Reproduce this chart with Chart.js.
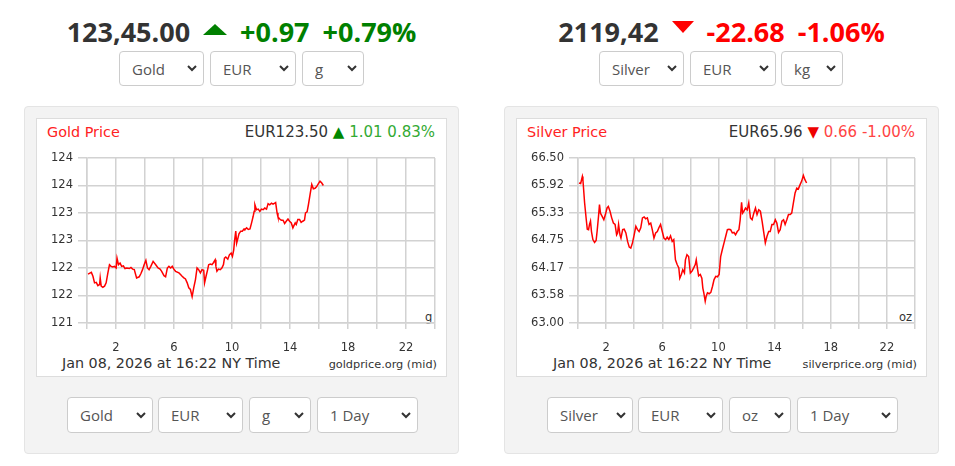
<!DOCTYPE html>
<html>
<head>
<meta charset="utf-8">
<script src="https://cdn.jsdelivr.net/npm/chart.js@4.4.1/dist/chart.umd.min.js"></script>
<style>
body{margin:0;background:#fff;width:955px;height:466px;position:relative;overflow:hidden;font-family:"Open Sans",sans-serif;}
.head{position:absolute;top:14px;width:435px;height:36px;line-height:36px;display:flex;justify-content:center;align-items:center;gap:13px;font-weight:700;font-size:27px;white-space:nowrap;color:#333;}
.up{width:0;height:0;border-left:12px solid transparent;border-right:12px solid transparent;border-bottom:11px solid #008000;margin-top:-6px;}
.down{width:0;height:0;border-left:11px solid transparent;border-right:11px solid transparent;border-top:12px solid #f00;margin-top:-10px;}
select{position:absolute;-webkit-appearance:none;appearance:none;box-sizing:border-box;height:36px;border:1px solid #ccc;border-radius:4px;background:#fff url("data:image/svg+xml,%3Csvg xmlns='http://www.w3.org/2000/svg' width='10' height='7' viewBox='0 0 10 7'%3E%3Cpath d='M1 1l4 4 4-4' fill='none' stroke='%23333' stroke-width='2'/%3E%3C/svg%3E") no-repeat right 6px center;font-family:"Open Sans",sans-serif;font-size:15px;color:#555;padding:0 0 0 12px;margin:0;}
.panel{position:absolute;top:106px;width:435px;height:348px;box-sizing:border-box;background:#f3f3f3;border:1px solid #e4e4e4;border-radius:4px;}
.box{position:absolute;top:118px;width:411px;height:259px;box-sizing:border-box;background:#fff;border:1px solid #ddd;}
.t{position:absolute;white-space:nowrap;font-family:"DejaVu Sans",Verdana,sans-serif;line-height:16px;}
canvas{position:absolute;top:140px;}
</style>
</head>
<body>

<div class="head" style="left:24px"><span>123,45.00</span><span class="up"></span><span style="color:#008000">+0.97</span><span style="color:#008000">+0.79%</span></div>
<select style="left:119px;top:51px;height:35px;width:85px"><option>Gold</option></select>
<select style="left:210px;top:51px;height:35px;width:86px"><option>EUR</option></select>
<select style="left:302px;top:51px;height:35px;width:62px"><option>g</option></select>

<div class="head" style="left:504px"><span>2119,42</span><span class="down"></span><span style="color:#f00">-22.68</span><span style="color:#f00">-1.06%</span></div>
<select style="left:599px;top:51px;height:35px;width:85px"><option>Silver</option></select>
<select style="left:690px;top:51px;height:35px;width:86px"><option>EUR</option></select>
<select style="left:781px;top:51px;height:35px;width:62px"><option>kg</option></select>

<div class="panel" style="left:24px"></div>
<div class="panel" style="left:504px"></div>
<div class="box" style="left:36px"></div>
<div class="box" style="left:516px"></div>

<div class="t" style="left:47px;top:124px;font-size:14.4px;color:#f22">Gold Price</div>
<div class="t" style="right:520px;top:124px;font-size:15px;color:#333">EUR123.50 <span style="color:#080">▲</span> <span style="color:#3a3">1.01 0.83%</span></div>
<div class="t" style="left:425px;top:309px;font-size:11.5px;color:#333">g</div>
<div class="t" style="left:62px;top:355px;font-size:14.3px;color:#333">Jan 08, 2026 at 16:22 NY Time</div>
<div class="t" style="right:518px;top:357px;font-size:11.3px;color:#333">goldprice.org (mid)</div>

<div class="t" style="left:527px;top:124px;font-size:14.4px;color:#f22">Silver Price</div>
<div class="t" style="right:40px;top:124px;font-size:15px;color:#333">EUR65.96 <span style="color:#e00">▼</span> <span style="color:#f44">0.66 -1.00%</span></div>
<div class="t" style="left:899px;top:309px;font-size:11.5px;color:#333">oz</div>
<div class="t" style="left:553px;top:355px;font-size:14.3px;color:#333">Jan 08, 2026 at 16:22 NY Time</div>
<div class="t" style="right:38px;top:357px;font-size:11.3px;color:#333">silverprice.org (mid)</div>

<canvas id="goldChart" width="411" height="220" style="left:36px"></canvas>
<canvas id="silverChart" width="411" height="220" style="left:516px"></canvas>

<select style="left:67px;top:397px;width:86px"><option>Gold</option></select>
<select style="left:158px;top:397px;width:85px"><option>EUR</option></select>
<select style="left:249px;top:397px;width:62px"><option>g</option></select>
<select style="left:317px;top:397px;width:101px"><option>1 Day</option></select>

<select style="left:547px;top:397px;width:86px"><option>Silver</option></select>
<select style="left:638px;top:397px;width:85px"><option>EUR</option></select>
<select style="left:729px;top:397px;width:62px"><option>oz</option></select>
<select style="left:797px;top:397px;width:101px"><option>1 Day</option></select>

<script>
// hours after midnight (NY time) and EUR price per unit
var goldHours = [0.07,0.30,0.41,0.52,0.64,0.75,0.87,0.91,0.98,1.09,1.21,1.32,1.44,1.55,1.66,1.78,1.89,2.01,2.07,2.17,2.28,2.39,2.51,2.62,2.74,2.92,3.03,3.15,3.26,3.42,3.60,3.72,3.83,3.94,4.06,4.17,4.28,4.40,4.56,4.74,4.90,5.04,5.15,5.31,5.42,5.54,5.65,5.77,5.88,5.99,6.11,6.34,6.45,6.56,6.68,6.79,6.91,7.02,7.13,7.25,7.36,7.48,7.59,7.70,7.82,7.93,8.05,8.11,8.21,8.32,8.39,8.50,8.62,8.73,8.84,8.89,8.96,9.07,9.19,9.30,9.41,9.48,9.57,9.71,9.82,9.94,10.03,10.12,10.17,10.26,10.32,10.39,10.48,10.60,10.71,10.83,10.89,11.01,11.12,11.24,11.35,11.46,11.53,11.58,11.69,11.81,11.92,12.03,12.15,12.26,12.38,12.49,12.60,12.72,12.83,12.95,13.01,13.11,13.17,13.29,13.40,13.52,13.63,13.74,13.86,13.97,14.09,14.20,14.27,14.36,14.43,14.54,14.66,14.77,14.88,15.00,15.07,15.18,15.27,15.38,15.50,15.61,15.73,15.84,15.95,16.07,16.18,16.30];
var goldPrices = [121.89,121.92,121.85,121.73,121.74,121.68,121.70,121.82,121.67,121.65,121.67,121.73,121.91,122.06,122.03,122.02,122.03,122.00,122.18,122.06,122.09,122.03,122.04,121.99,122.00,121.99,122.01,121.98,121.97,121.82,121.84,121.90,121.97,122.06,122.14,122.00,121.97,122.03,122.12,122.06,122.00,121.98,121.94,121.86,121.84,122.00,122.03,122.00,122.03,121.98,121.94,121.91,121.88,121.85,121.82,121.80,121.73,121.64,121.61,121.48,121.64,121.79,122.00,121.97,121.91,121.97,121.96,121.73,121.85,121.97,122.06,122.07,122.06,122.10,122.15,122.03,121.94,121.98,121.97,122.00,122.06,122.18,122.20,122.16,122.24,122.27,122.21,122.33,122.48,122.67,122.45,122.52,122.62,122.67,122.67,122.71,122.70,122.73,122.70,122.71,122.82,122.94,123.03,123.15,123.06,123.07,123.03,123.07,123.06,123.09,123.07,123.17,123.15,123.18,123.16,123.18,123.19,123.00,122.93,122.89,122.87,122.87,122.81,122.85,122.89,122.85,122.82,122.73,122.77,122.82,122.79,122.88,122.88,122.83,122.85,122.87,123.00,123.02,123.15,123.33,123.52,123.44,123.45,123.48,123.53,123.58,123.55,123.50];

var silverHours = [0.07,0.19,0.31,0.35,0.47,0.59,0.66,0.75,0.82,0.89,0.96,1.06,1.18,1.29,1.36,1.46,1.53,1.60,1.72,1.84,1.95,2.07,2.16,2.28,2.40,2.52,2.64,2.75,2.82,2.89,2.99,3.06,3.18,3.29,3.41,3.53,3.65,3.76,3.88,4.00,4.12,4.24,4.35,4.47,4.59,4.71,4.82,4.94,5.06,5.18,5.29,5.41,5.53,5.65,5.76,5.88,6.00,6.12,6.24,6.35,6.47,6.59,6.71,6.82,6.94,7.06,7.18,7.25,7.36,7.46,7.58,7.65,7.76,7.88,8.00,8.12,8.24,8.35,8.42,8.52,8.59,8.71,8.82,8.89,8.96,9.06,9.13,9.22,9.34,9.46,9.58,9.69,9.81,9.93,10.05,10.16,10.28,10.40,10.52,10.64,10.75,10.87,10.99,11.11,11.22,11.34,11.46,11.55,11.65,11.72,11.81,11.93,12.05,12.16,12.28,12.40,12.52,12.64,12.75,12.87,12.99,13.11,13.22,13.34,13.46,13.58,13.69,13.81,13.93,14.05,14.16,14.28,14.40,14.52,14.64,14.75,14.87,14.99,15.11,15.22,15.34,15.46,15.58,15.69,15.81,15.93,16.05,16.16,16.28];
var silverPrices = [65.97,65.96,66.11,66.04,65.55,65.19,64.99,64.98,65.09,65.16,64.94,64.77,64.71,64.75,64.94,65.26,65.51,65.33,65.26,65.19,65.30,65.44,65.47,65.37,65.23,65.12,65.09,64.87,64.91,65.09,64.87,64.80,64.98,64.99,64.91,64.73,64.61,64.59,64.70,64.87,65.05,64.98,64.94,65.02,65.23,65.25,65.21,65.23,65.09,65.12,64.98,64.80,64.91,64.94,65.02,65.09,64.94,64.80,64.77,64.82,64.77,64.85,64.73,64.77,64.34,64.24,64.17,63.95,64.03,64.13,64.06,64.34,64.45,64.41,64.06,64.10,64.17,64.24,64.34,64.13,64.00,64.03,63.95,63.74,63.64,63.46,63.57,63.64,63.62,63.65,63.78,63.92,63.99,63.98,64.03,64.41,64.56,64.70,64.84,64.98,64.99,64.98,64.91,64.92,64.87,64.94,64.98,65.19,65.56,65.33,65.37,65.44,65.40,65.55,65.23,65.19,65.33,65.44,65.30,65.40,65.37,65.16,64.94,64.70,64.84,64.94,64.94,65.09,65.09,65.19,65.12,64.92,64.98,65.16,65.19,65.09,65.19,65.30,65.30,65.33,65.55,65.76,65.86,65.84,65.93,66.01,66.13,66.04,65.97];

var hourLabels = [2, 6, 10, 14, 18, 22];
var goldTickLabels = ["121", "122", "122", "123", "123", "124", "124"];
var silverTickLabels = ["63.00", "63.58", "64.17", "64.75", "65.33", "65.92", "66.50"];

var tickFont = { family: "DejaVu Sans", size: 11.5 };
var gridColor = "#d2d2d2";

function priceChart(id, hours, prices, yMin, yMax, yLabels, yWidth) {
    var step = (yMax - yMin) / (yLabels.length - 1);
    return new Chart(document.getElementById(id), {
        type: "line",
        data: {
            datasets: [{
                data: hours.map(function (h, i) { return { x: h, y: prices[i] }; }),
                borderColor: "#ff0000",
                borderWidth: 1.5,
                pointRadius: 0,
                tension: 0,
                fill: false
            }]
        },
        options: {
            responsive: false,
            animation: false,
            events: [],
            layout: { padding: { top: 18, right: 9, bottom: 7, left: 0 } },
            plugins: { legend: { display: false }, tooltip: { enabled: false } },
            scales: {
                x: {
                    type: "linear",
                    min: 0,
                    max: 24,
                    ticks: {
                        stepSize: 2,
                        autoSkip: false,
                        maxRotation: 0,
                        padding: 12,
                        color: "#333",
                        font: tickFont,
                        callback: function (v) { return hourLabels.indexOf(v) >= 0 ? String(v) : ""; }
                    },
                    grid: { color: gridColor, lineWidth: 1.5, tickLength: 6 },
                    border: { color: gridColor, width: 1.5 },
                    afterFit: function (s) { s.height = 30; }
                },
                y: {
                    min: yMin,
                    max: yMax,
                    afterBuildTicks: function (s) {
                        s.ticks = yLabels.map(function (_, i) { return { value: yMin + i * step }; });
                    },
                    ticks: {
                        padding: 5,
                        color: "#333",
                        font: tickFont,
                        callback: function (v, i) { return yLabels[i]; }
                    },
                    grid: { color: gridColor, lineWidth: 1.5, tickLength: 9 },
                    border: { color: gridColor, width: 1.5 },
                    afterFit: function (s) { s.width = yWidth; }
                }
            }
        }
    });
}

priceChart("goldChart", goldHours, goldPrices, 121, 124, goldTickLabels, 51);
priceChart("silverChart", silverHours, silverPrices, 63, 66.5, silverTickLabels, 62);
</script>
</body>
</html>
